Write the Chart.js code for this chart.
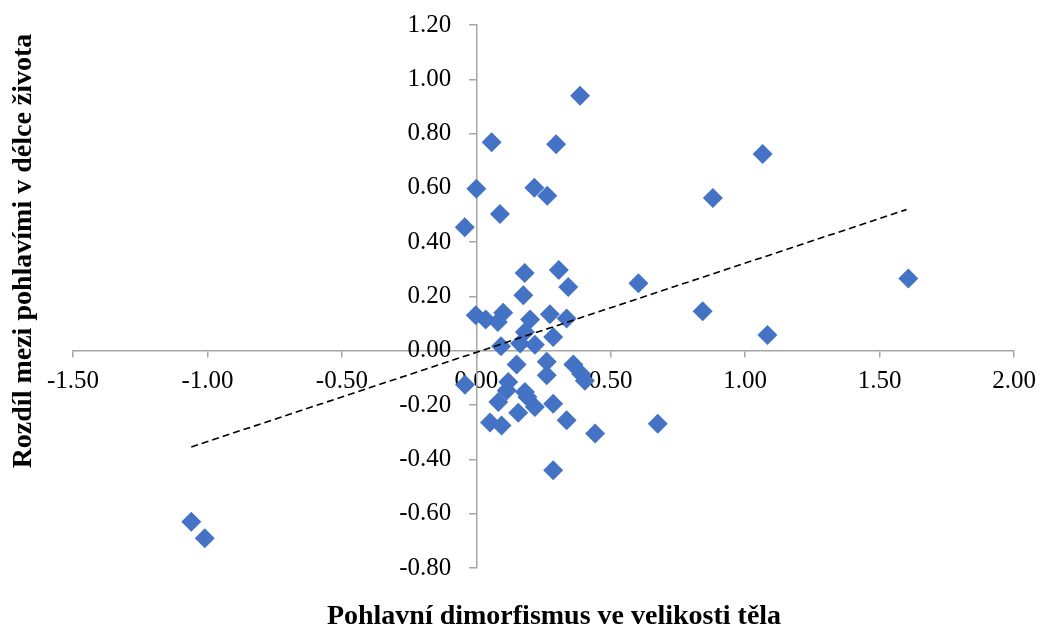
<!DOCTYPE html>
<html>
<head>
<meta charset="utf-8">
<script src="https://cdn.jsdelivr.net/npm/chart.js@4"></script>
<style>
  html, body { margin: 0; padding: 0; background: #fff; }
  #wrap { width: 1041px; height: 630px; }
</style>
</head>
<body>
<div id="wrap"><canvas id="c" width="1041" height="630"></canvas></div>
<script>
const xTitle = 'Pohlavní dimorfismus ve velikosti těla';
const yTitle = 'Rozdíl mezi pohlavími v délce života';

const xValues = [-1.06, -1.01, 1.065, 0.88, 0.603, 0.842, 1.083, 1.607, 0.675, 0.442,
  0.386, 0.057, 0.297, 0.0, 0.216, 0.264, 0.088, -0.043, 0.18, 0.307,
  0.342, 0.175, -0.002, 0.035, 0.08, 0.10, 0.20, 0.274, 0.336, 0.181,
  0.286, 0.092, 0.163, 0.218, 0.15, 0.262, 0.262, 0.361, 0.404, -0.042,
  0.119, 0.181, 0.113, 0.082, 0.218, 0.286, 0.156, 0.051, 0.094, 0.336,
  0.286, 0.19, 0.39];
const yValues = [-0.63, -0.69, 0.725, 0.563, 0.249, 0.146, 0.058, 0.266, -0.269, -0.305,
  0.939, 0.768, 0.761, 0.597, 0.601, 0.571, 0.504, 0.455, 0.287, 0.298,
  0.235, 0.205, 0.131, 0.115, 0.106, 0.14, 0.115, 0.135, 0.119, 0.069,
  0.051, 0.017, 0.027, 0.022, -0.05, -0.04, -0.09, -0.05, -0.11, -0.125,
  -0.115, -0.152, -0.146, -0.189, -0.207, -0.195, -0.228, -0.264, -0.275, -0.256,
  -0.44, -0.17, -0.085];

const trendX = [-1.06, 1.60];
const trendY = [-0.354, 0.52];

const xTicks = [-1.5, -1.0, -0.5, 0.0, 0.5, 1.0, 1.5, 2.0];
const yTicks = [-0.8, -0.6, -0.4, -0.2, 0.0, 0.2, 0.4, 0.6, 0.8, 1.0, 1.2];

const points = xValues.map((x, i) => ({ x: x, y: yValues[i] }));
const trend = trendX.map((x, i) => ({ x: x, y: trendY[i] }));

const axisTitles = {
  id: 'axisTitles',
  afterDraw(chart) {
    const ctx = chart.ctx;
    ctx.save();
    ctx.fillStyle = '#000';
    ctx.font = 'bold 28px "Liberation Serif", "Times New Roman", serif';
    ctx.textAlign = 'center';
    ctx.textBaseline = 'middle';
    ctx.fillText(xTitle, 554, 617);
    ctx.translate(24, 251);
    ctx.rotate(-Math.PI / 2);
    ctx.fillText(yTitle, 0, 0);
    ctx.restore();
  }
};

const tickFont = { family: '"Liberation Serif", "Times New Roman", serif', size: 25 };
const axisColor = '#a6a6a6';
const noPad = (s) => { s.paddingTop = 0; s.paddingBottom = 0; s.paddingLeft = 0; s.paddingRight = 0; };

new Chart(document.getElementById('c'), {
  type: 'scatter',
  data: {
    datasets: [
      {
        type: 'line',
        data: trend,
        borderColor: '#000',
        borderWidth: 1.6,
        borderDash: [7, 4],
        pointRadius: 0,
        fill: false,
        order: 0
      },
      {
        data: points,
        pointStyle: 'rectRot',
        pointRadius: 10,
        backgroundColor: '#4472C4',
        borderColor: '#4472C4',
        borderWidth: 0,
        order: 1
      }
    ]
  },
  options: {
    responsive: false,
    animation: false,
    layout: { padding: { left: 73, right: 27, top: 25, bottom: 62 } },
    plugins: { legend: { display: false }, tooltip: { enabled: false } },
    scales: {
      x: {
        type: 'linear',
        position: { y: 0 },
        min: xTicks[0],
        max: xTicks[xTicks.length - 1],
        afterBuildTicks: (s) => { s.ticks = xTicks.map(v => ({ value: v })); },
        afterFit: noPad,
        grid: { display: true, drawOnChartArea: false, drawTicks: true, tickLength: 6, color: axisColor, lineWidth: 1.5 },
        border: { display: true, color: axisColor, width: 1.5 },
        ticks: {
          autoSkip: false, maxRotation: 0, color: '#000', font: tickFont, padding: 10,
          callback: (v) => Number(v).toFixed(2)
        }
      },
      y: {
        type: 'linear',
        position: { x: 0 },
        min: yTicks[0],
        max: yTicks[yTicks.length - 1],
        afterBuildTicks: (s) => { s.ticks = yTicks.map(v => ({ value: v })); },
        afterFit: noPad,
        grid: { display: true, drawOnChartArea: false, drawTicks: true, tickLength: 7, color: axisColor, lineWidth: 1.5 },
        border: { display: true, color: axisColor, width: 1.5 },
        ticks: {
          autoSkip: false, color: '#000', font: tickFont, padding: 0,
          callback: (v) => Number(v).toFixed(2) + '    '
        }
      }
    }
  },
  plugins: [axisTitles]
});
</script>
</body>
</html>
